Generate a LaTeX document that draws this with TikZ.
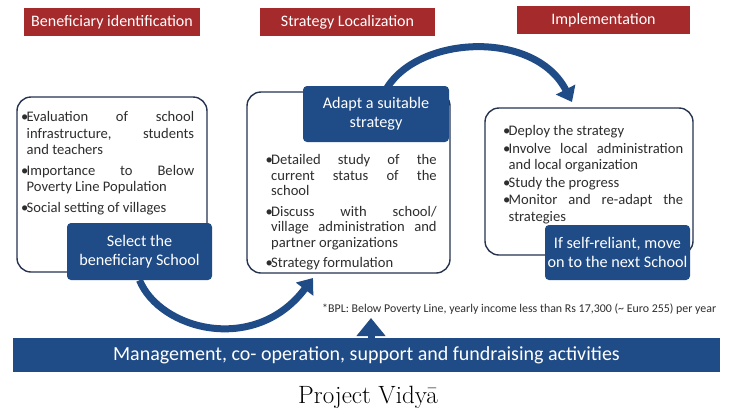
\documentclass[tikz,border=0pt]{standalone}
\usepackage{fontspec}
\newfontfamily\carl{Carlito}
\usetikzlibrary{arrows.meta}
\definecolor{hdrred}{HTML}{A52A2C}
\definecolor{navy}{HTML}{1F4B86}
\definecolor{boxline}{HTML}{26344F}
\definecolor{txt}{HTML}{2E2E2E}
\newcommand\bitem{\par\noindent\hangindent=5.5pt\hangafter=1\makebox[5.5pt][l]{•}}
\begin{document}
\begin{tikzpicture}[x=1pt,y=-1pt,
  header/.style={fill=hdrred, text=white, font=\carl\fontsize{16}{19}\selectfont, minimum height=28pt, inner sep=0pt},
  roundbox/.style={draw=boxline, line width=1.4pt, rounded corners=14pt, fill=white, inner sep=0pt},
  darkbox/.style={fill=navy, text=white, rounded corners=4pt, align=center, font=\carl\fontsize{16.2}{18.5}\selectfont, inner sep=0pt},
  bullets/.style={anchor=north west, inner sep=0pt, align=justify, text=txt, font=\carl\fontsize{14.6}{16.5}\selectfont},
  bigarrow/.style={draw=navy, line width=7pt, -{Triangle[length=14pt,width=21pt]}}
]
\useasboundingbox[fill=white] (0,0) rectangle (731,413);

% headers
\node[header, minimum width=176pt] (h1) at (112,22) {Beneficiary identification};
\node[header, minimum width=175pt] (h2) at (347.5,22) {Strategy Localization};
\node[header, minimum width=173pt] (h3) at (603.5,20) {Implementation};

% rounded frames
\node[roundbox, minimum width=190pt, minimum height=175pt] (lb) at (112,184.5) {};
\node[roundbox, minimum width=203pt, minimum height=181pt] (mb) at (348.5,182.5) {};
\node[roundbox, minimum width=208pt, minimum height=147pt] (rb) at (589,181.5) {};

% bullet texts
\node[bullets, text width=173pt] (lt) at (21,101) {\setlength\parskip{4pt}%
\bitem Evaluation of school\linebreak infrastructure, students\linebreak and teachers
\bitem Importance to Below\linebreak Poverty Line Population
\bitem Social setting of villages\par};
\node[bullets, text width=171pt, font=\carl\fontsize{14.6}{15.7}\selectfont] (mt) at (265.5,144) {\setlength\parskip{4.5pt}%
\bitem Detailed study of the\linebreak current status of the\linebreak school
\bitem Discuss with school/\linebreak village administration and\linebreak partner organizations
\bitem Strategy formulation\par};
\node[bullets, text width=180pt] (rt) at (503,118) {\setlength\parskip{1pt}%
\bitem Deploy the strategy
\bitem Involve local administration\linebreak and local organization
\bitem Study the progress
\bitem Monitor and re-adapt the\linebreak strategies\par};

% dark boxes
\node[darkbox, minimum width=145pt, minimum height=57pt] (sel) at (139.5,251.5) {Select the\\ beneficiary School};
\node[darkbox, minimum width=146pt, minimum height=56pt] (adapt) at (376,114) {Adapt a suitable\\ strategy};
\node[darkbox, minimum width=145pt, minimum height=55pt] (next) at (617.5,252.5) {If self-reliant, move\\ on to the next School};

% bottom bar
\node[fill=navy, text=white, minimum width=707pt, minimum height=34pt, inner sep=0pt,
  font=\carl\fontsize{20}{24}\selectfont] (bar) at (366.5,355) {Management, co- operation, support and fundraising activities};

% footnote
\node[anchor=west, inner sep=0pt, text=txt, font=\carl\fontsize{11.9}{14}\selectfont] (fn) at (322,309)
  {*BPL: Below Poverty Line, yearly income less than Rs 17,300 (\textasciitilde{} Euro 255) per year};

% caption
\node[inner sep=0pt, font=\rmfamily\fontsize{25}{30}\selectfont, text=black] (cap) at (368,397) {Project Vidyā};

% arrows
\coordinate (mtip) at (313,278);
\coordinate (rtip) at (572,102);
\coordinate (uptip) at (371,318);
\draw[bigarrow] (sel.south) .. controls (160,330) and (255,355) .. (mtip);
\draw[bigarrow] ([xshift=11pt,yshift=-2pt]adapt.north) .. controls (420,35) and (535,30) .. (rtip);
\draw[draw=navy, line width=7pt, -{Triangle[length=18pt,width=28pt]}] (bar.north -| uptip) -- (uptip);
\end{tikzpicture}
\end{document}
